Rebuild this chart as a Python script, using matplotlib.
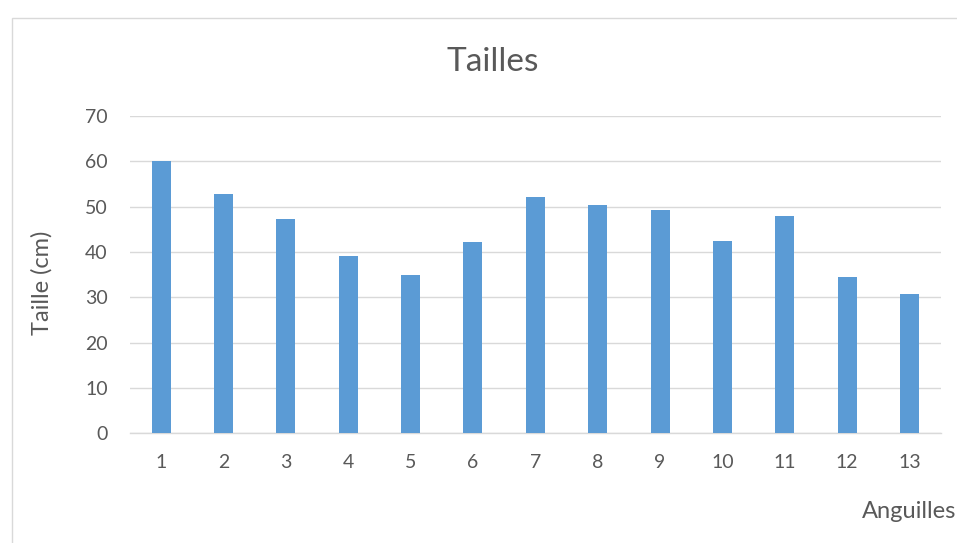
import matplotlib
matplotlib.use("Agg")
import matplotlib.pyplot as plt
from matplotlib.patches import Rectangle

# data
anguilles = ["1", "2", "3", "4", "5", "6", "7", "8", "9", "10", "11", "12", "13"]
tailles = [60.0, 52.8, 47.2, 39.2, 34.9, 42.3, 52.2, 50.3, 49.3, 42.4, 47.9, 34.5, 30.7]
yticks = [0, 10, 20, 30, 40, 50, 60, 70]

plt.rcParams['font.family'] = ['Lato', 'DejaVu Sans']
grey = "#595959"

fig = plt.figure(figsize=(9.57, 5.43), dpi=100)
# chart area border (cut off at right and bottom like the original)
fig.patches.append(Rectangle((12 / 957, -0.1), 1.0, (543 - 18) / 543 + 0.1,
                             transform=fig.transFigure, fill=False,
                             edgecolor="#d9d9d9", linewidth=1.0))

ax = fig.add_axes([130 / 957, (543 - 433.3) / 543, (940.7 - 130) / 957, (433.3 - 116) / 543])
x = range(len(anguilles))
ax.bar(x, tailles, width=0.305, color="#5b9bd5", zorder=3)

ax.set_xlim(-0.5, len(anguilles) - 0.5)
ax.set_ylim(0, 70)
ax.set_yticks(yticks)
ax.set_xticks(list(x))
ax.set_xticklabels(anguilles)
ax.yaxis.grid(True, color="#d9d9d9", linewidth=1.0, zorder=0)
ax.set_axisbelow(True)
for s in ["top", "right", "left"]:
    ax.spines[s].set_visible(False)
ax.spines["bottom"].set_color("#d9d9d9")
ax.spines["bottom"].set_linewidth(1.0)
ax.tick_params(axis="both", length=0, labelsize=14, labelcolor=grey)
ax.tick_params(axis="y", pad=16)
ax.tick_params(axis="x", pad=15)

fig.text(493 / 957, 1 - 62 / 543, "Tailles", ha="center", va="center",
         fontsize=24, color=grey)
fig.text(42 / 957, 1 - 283 / 543, "Taille (cm)", ha="center", va="center",
         rotation=90, fontsize=17, color=grey)
fig.text(862 / 957, 1 - 512 / 543, "Anguilles", ha="left", va="center",
         fontsize=17, color=grey)

fig.savefig("out.png", dpi=100)
